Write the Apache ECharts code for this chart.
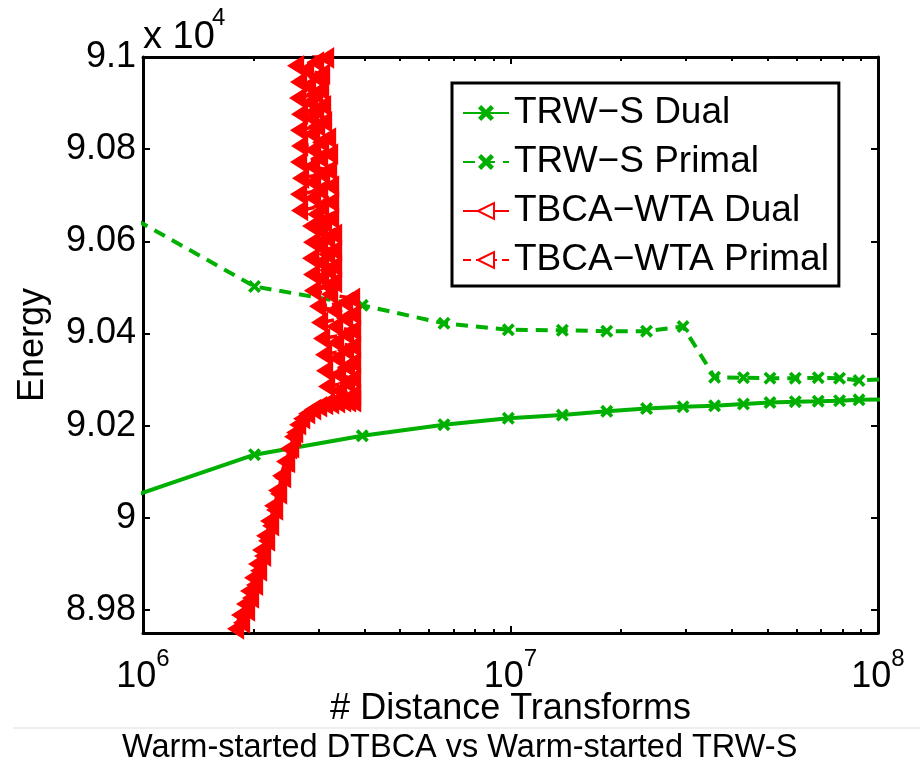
<!DOCTYPE html>
<html><head><meta charset="utf-8">
<script src="https://cdn.jsdelivr.net/npm/echarts@6/dist/echarts.min.js"></script>
<style>html,body{margin:0;padding:0;background:#fff}#c{width:920px;height:761px}</style>
</head><body><div id="c"></div>
<script>
// ---------- data ----------
const seriesNames = ['TRW\u2212S Dual', 'TRW\u2212S Primal', 'TBCA\u2212WTA Dual', 'TBCA\u2212WTA Primal'];
// TRW-S: shared x (distance transforms), first/last points lie just outside the axis range
const trwX = [0.5e6, 2.011e6, 3.952e6, 6.592e6, 9.863e6, 13.84e6, 18.28e6, 23.45e6, 29.48e6, 35.92e6, 43.05e6, 50.83e6, 59.57e6, 68.78e6, 78.59e6, 88.8e6, 105e6];
const trwDual = [89973, 90137, 90178, 90202, 90216, 90223, 90231, 90237, 90241, 90243, 90247, 90250, 90252, 90253, 90254, 90256, 90257];
const trwPrimal = [90773, 90502, 90461, 90422, 90408, 90407, 90405, 90405, 90415, 90305, 90304, 90303, 90303, 90304, 90303, 90298, 90301];
// TBCA-WTA (x in millions of distance transforms)
const tbcaDualXM = [1.7906, 1.836, 1.8592, 1.8944, 1.9184, 1.9426, 1.9671, 1.9920, 2.0171, 2.0426, 2.0684, 2.0945, 2.1210, 2.1478, 2.1749, 2.2024, 2.2302, 2.2584, 2.2869, 2.3158, 2.3450, 2.3747, 2.4046, 2.4350, 2.4658, 2.4969, 2.5285, 2.5604, 2.5927, 2.6419, 2.7090, 2.7954, 2.9022, 3.0132, 3.1284, 3.2480, 3.3721, 3.5011, 3.6121, 3.7267];
const tbcaDual = [89759, 89789, 89772, 89813, 89798, 89841, 89826, 89870, 89854, 89900, 89885, 89930, 89917, 89961, 89950, 89993, 89983, 90026, 90017, 90059, 90052, 90091, 90087, 90122, 90120, 90150, 90152, 90176, 90185, 90202, 90215, 90226, 90235, 90241, 90246, 90248, 90250, 90252, 90252, 90254];
const tbcaPrimalXM = [
  2.6743, 2.8473, 3.1475, 2.9563, 2.6081, 2.7768, 3.0696, 2.9749, 2.6576, 2.8118,
  3.0504, 2.9378, 2.6410, 2.8473, 3.0889, 2.9563, 2.6743, 2.8651, 3.1083, 2.9749,
  2.6576, 2.8831, 3.1872, 3.0504, 2.6743, 2.9013, 3.2273, 3.0313, 2.6576, 2.8831,
  3.2072, 3.0696, 2.6911, 2.9013, 3.2476, 3.0313, 2.6576, 2.9013, 3.2476, 3.0504,
  2.6743, 2.9563, 3.2476, 3.1083, 2.8651, 3.0313, 3.3093, 3.1673, 2.8831, 3.0313,
  3.3093, 3.1673, 2.8651, 3.0504, 3.3093, 3.1872, 2.8831, 3.0504, 3.3093, 3.1872,
  2.9013, 3.2273, 3.7044, 3.5454, 2.9936, 3.3093, 3.7276, 3.5454, 3.0313, 3.3301,
  3.7276, 3.5677, 3.0696, 3.3510, 3.7276, 3.5677, 3.1083, 3.3721, 3.7276, 3.5901,
  3.1279, 3.3932, 3.7276, 3.5901, 3.1673, 3.4146, 3.7276, 3.6127, 3.7276];
const tbcaPrimal = [
  91015, 91007, 90998, 90989, 90981, 90972, 90963, 90955, 90946, 90937,
  90928, 90920, 90911, 90902, 90894, 90885, 90876, 90868, 90859, 90850,
  90841, 90833, 90824, 90815, 90807, 90798, 90789, 90781, 90772, 90763,
  90754, 90746, 90737, 90728, 90720, 90711, 90702, 90694, 90685, 90676,
  90667, 90659, 90650, 90641, 90633, 90624, 90615, 90607, 90598, 90589,
  90580, 90572, 90563, 90554, 90546, 90537, 90528, 90520, 90511, 90502,
  90493, 90485, 90476, 90467, 90459, 90450, 90441, 90433, 90424, 90415,
  90406, 90398, 90389, 90380, 90372, 90363, 90354, 90346, 90337, 90328,
  90319, 90311, 90302, 90293, 90285, 90276, 90267, 90259, 90252];
// axes
const yTicks = [89800, 90000, 90200, 90400, 90600, 90800, 91000];
const xDecades = [6, 7];
const minorMultipliers = [2, 3, 4, 5, 6, 7, 8, 9];
const captionText = 'Warm-started DTBCA vs Warm-started TRW-S';

// ---------- chart ----------
const FONT = 'Liberation Sans, Arial, Helvetica, sans-serif';
const GREEN = '#00b000', RED = '#ff0000';
const X_SYM = 'path://M0,2 L2,0 L5,3 L8,0 L10,2 L7,5 L10,8 L8,10 L5,7 L2,10 L0,8 L3,5 Z';
const TRI_SYM = 'path://M0,6 L10,0 L10,12 Z';
const pair = (xs, ys, k) => xs.map((x, i) => [x * (k || 1), ys[i]]);
const minorLogs = [];
xDecades.forEach(d => minorMultipliers.forEach(m => minorLogs.push(d + Math.log10(m))));

const axisLineStyle = { lineStyle: { color: '#000', width: 3 } };
const logAxisBase = {
  type: 'log', logBase: 10, min: 1e6, max: 1e8,
  axisLine: axisLineStyle, splitLine: { show: false },
  axisTick: { inside: true, length: 7, lineStyle: { color: '#000', width: 2 } }
};
const minorAxisBase = {
  type: 'value', min: 6, max: 8,
  axisLine: { show: false }, splitLine: { show: false }, axisLabel: { show: false },
  axisTick: { inside: true, length: 4, customValues: minorLogs, lineStyle: { color: '#000', width: 2 } }
};
const yBase = {
  type: 'value', min: 89750, max: 91000, scale: true,
  axisLine: { show: true, lineStyle: { color: '#000', width: 3 } }, splitLine: { show: false },
  axisTick: { show: true, inside: true, length: 7, customValues: yTicks, lineStyle: { color: '#000', width: 2 } }
};

const chart = echarts.init(document.getElementById('c'), null, { renderer: 'canvas' });
chart.setOption({
  animation: false,
  backgroundColor: '#fff',
  textStyle: { fontFamily: FONT },
  grid: { left: 143, right: 42, top: 57, bottom: 128, containLabel: false, outerBoundsMode: 'none' },
  xAxis: [
    Object.assign({}, logAxisBase, {
      position: 'bottom',
      name: '# Distance Transforms', nameLocation: 'middle', nameGap: 58, nameMoveOverlap: false,
      nameTextStyle: { fontSize: 36, color: '#000', fontFamily: FONT },
      axisLabel: {
        margin: 22, color: '#000',
        formatter: v => '{b|10}{s|' + Math.round(Math.log10(v)) + '}',
        rich: {
          b: { fontSize: 36, fontFamily: FONT, color: '#000', lineHeight: 40, verticalAlign: 'bottom' },
          s: { fontSize: 24, fontFamily: FONT, color: '#000', lineHeight: 24, verticalAlign: 'bottom', padding: [0, 0, 24, 0] }
        }
      }
    }),
    Object.assign({}, logAxisBase, { position: 'top', axisLabel: { show: false } }),
    Object.assign({}, minorAxisBase, { position: 'bottom' }),
    Object.assign({}, minorAxisBase, { position: 'top' })
  ],
  yAxis: [
    Object.assign({}, yBase, {
      position: 'left',
      name: 'Energy', nameLocation: 'middle', nameGap: 92, nameMoveOverlap: false,
      nameTextStyle: { fontSize: 36, color: '#000', fontFamily: FONT },
      axisLabel: {
        customValues: yTicks, margin: 7, color: '#000', fontSize: 36, fontFamily: FONT,
        formatter: v => String(parseFloat((v / 1e4).toFixed(2)))
      }
    }),
    Object.assign({}, yBase, { position: 'right', axisLabel: { show: false } })
  ],
  legend: {
    orient: 'vertical', left: 452, top: 83,
    padding: [10, 10, 6, 10], itemGap: 9, itemWidth: 46, itemHeight: 20,
    borderColor: '#000', borderWidth: 3, backgroundColor: '#fff',
    textStyle: { fontSize: 37, lineHeight: 40, color: '#000', fontFamily: FONT },
    data: seriesNames.map((n, i) => i < 2 ? { name: n } : { name: n, itemStyle: { color: '#fff', borderColor: RED, borderWidth: 2 } })
  },
  series: [
    { name: seriesNames[0], type: 'line', data: pair(trwX, trwDual), xAxisIndex: 0, yAxisIndex: 0,
      symbol: X_SYM, symbolSize: 13, itemStyle: { color: GREEN },
      lineStyle: { color: GREEN, width: 4 }, z: 2 },
    { name: seriesNames[1], type: 'line', data: pair(trwX, trwPrimal), xAxisIndex: 0, yAxisIndex: 0,
      symbol: X_SYM, symbolSize: 13, itemStyle: { color: GREEN },
      lineStyle: { color: GREEN, width: 4, type: [12, 8] }, z: 2 },
    { name: seriesNames[2], type: 'line', data: pair(tbcaDualXM, tbcaDual, 1e6), xAxisIndex: 0, yAxisIndex: 0,
      symbol: TRI_SYM, symbolSize: [15, 19], itemStyle: { color: RED, borderColor: RED, borderWidth: 1.5 },
      lineStyle: { color: RED, width: 3.5 }, z: 3 },
    { name: seriesNames[3], type: 'line', data: pair(tbcaPrimalXM, tbcaPrimal, 1e6), xAxisIndex: 0, yAxisIndex: 0,
      symbol: TRI_SYM, symbolSize: [15, 19], itemStyle: { color: RED, borderColor: RED, borderWidth: 1.5 },
      lineStyle: { color: RED, width: 3.5, type: [8, 5] }, z: 3 }
  ],
  graphic: [
    { type: 'text', left: 143, top: 19, style: { text: 'x 10', fontSize: 38, fontFamily: FONT, fill: '#000' } },
    { type: 'text', left: 212, top: 6, style: { text: '4', fontSize: 24, fontFamily: FONT, fill: '#000' } },
    { type: 'line', shape: { x1: 13, y1: 728, x2: 920, y2: 728 }, style: { stroke: '#dddddd', lineWidth: 1 } },
    { type: 'text', left: 122, top: 732, style: { text: captionText, fontSize: 32.5, fontFamily: FONT, fill: '#000' } }
  ]
});
</script>
</body></html>
